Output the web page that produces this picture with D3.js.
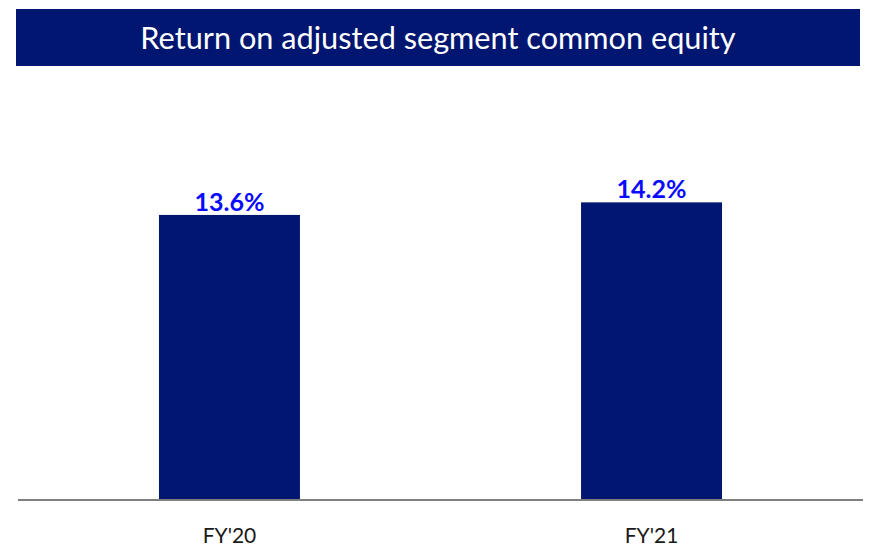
<!DOCTYPE html>
<html>
<head>
<meta charset="utf-8">
<script src="https://cdn.jsdelivr.net/npm/d3@7"></script>
<style>
  html, body { margin: 0; padding: 0; background: #ffffff; }
  svg { display: block; }
</style>
</head>
<body>
<svg id="chart" width="871" height="556"></svg>
<script>
// Return on adjusted segment common equity, by fiscal year (%)
const titleText = "Return on adjusted segment common equity";
const categories = ["FY'20", "FY'21"];
const values = [13.6, 14.2];
const valueLabels = ["13.6%", "14.2%"];

const W = 871, H = 556;
const navy = "#001670";
const fontFamily = "Lato, 'Open Sans', sans-serif";

const svg = d3.select("#chart");

// Title banner
svg.append("rect")
  .attr("x", 16).attr("y", 9)
  .attr("width", 844).attr("height", 57)
  .attr("fill", navy);

svg.append("text")
  .attr("x", 438).attr("y", 49)
  .attr("text-anchor", "middle")
  .attr("fill", "#ffffff")
  .attr("font-family", fontFamily)
  .attr("font-size", 30.7)
  .text(titleText);

// Scales
const x = d3.scaleBand()
  .domain(categories)
  .range([18, 863])
  .paddingInner(0.666)
  .paddingOuter(0.334);

const baseY = 500;
const y = d3.scaleLinear()
  .domain([0, 20])
  .range([baseY, baseY - 20 * 20.96]);

const data = categories.map((c, i) => ({ cat: c, value: values[i], label: valueLabels[i] }));

// Bars
svg.append("g")
  .selectAll("rect")
  .data(data)
  .join("rect")
  .attr("x", d => x(d.cat))
  .attr("y", d => y(d.value))
  .attr("width", x.bandwidth())
  .attr("height", d => y(0) - y(d.value))
  .attr("fill", navy);

// Value labels above bars
svg.append("g")
  .selectAll("text")
  .data(data)
  .join("text")
  .attr("x", d => x(d.cat) + x.bandwidth() / 2)
  .attr("y", d => y(d.value) - 4)
  .attr("text-anchor", "middle")
  .attr("fill", "#0a0aff")
  .attr("font-family", fontFamily)
  .attr("font-weight", "bold")
  .attr("font-size", 25)
  .text(d => d.label);

// Category axis along the baseline
const xAxis = d3.axisBottom(x).tickSize(0).tickPadding(28);
const axisG = svg.append("g")
  .attr("transform", `translate(0,${baseY})`)
  .call(xAxis);
axisG.select(".domain")
  .attr("stroke", "#808080")
  .attr("stroke-width", 2)
  .attr("d", "M18,0H863");
axisG.selectAll("text")
  .attr("fill", "#1a1a1a")
  .attr("font-family", fontFamily)
  .attr("font-size", 21);
</script>
</body>
</html>
